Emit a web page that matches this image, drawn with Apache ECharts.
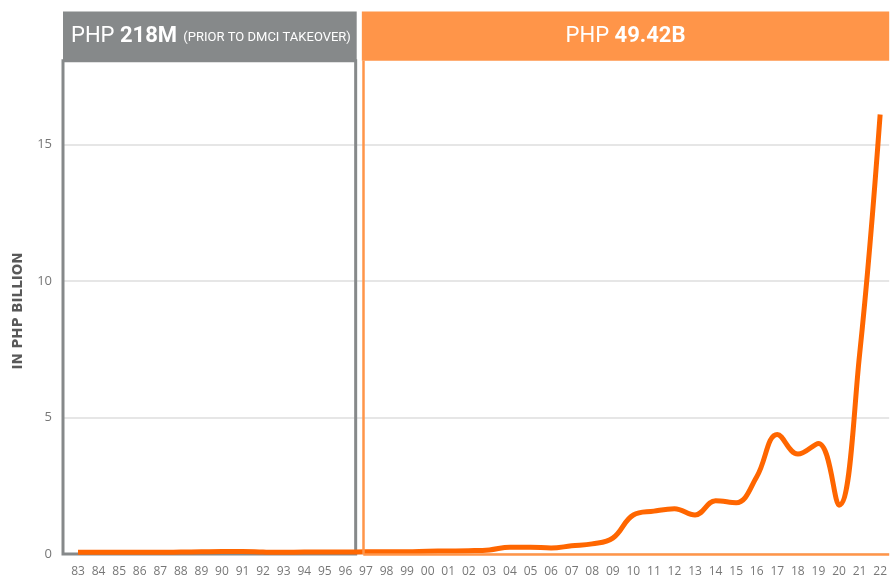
<!DOCTYPE html>
<html>
<head>
<meta charset="utf-8">
<script src="https://cdn.jsdelivr.net/npm/echarts@6/dist/echarts.min.js"></script>
<style>
  html, body { margin: 0; padding: 0; background: #fff; }
  #chart { width: 890px; height: 578px; }
</style>
</head>
<body>
<div id="chart"></div>
<script>
var years = [1983, 1984, 1985, 1986, 1987, 1988, 1989, 1990, 1991, 1992, 1993, 1994, 1995, 1996,
  1997, 1998, 1999, 2000, 2001, 2002, 2003, 2004, 2005, 2006, 2007, 2008, 2009, 2010,
  2011, 2012, 2013, 2014, 2015, 2016, 2017, 2018, 2019, 2020, 2021, 2022]
var yearLabels = ['83', '84', '85', '86', '87', '88', '89', '90', '91', '92', '93', '94', '95', '96',
  '97', '98', '99', '00', '01', '02', '03', '04', '05', '06', '07', '08', '09', '10',
  '11', '12', '13', '14', '15', '16', '17', '18', '19', '20', '21', '22']
// in PHP billion
var values = [0.06, 0.06, 0.06, 0.06, 0.06, 0.07, 0.08, 0.09, 0.09, 0.07, 0.06, 0.07, 0.07, 0.07,
  0.08, 0.08, 0.08, 0.1, 0.11, 0.12, 0.15, 0.25, 0.25, 0.22, 0.3, 0.37, 0.58, 1.43,
  1.57, 1.66, 1.43, 1.95, 1.88, 2.83, 4.38, 3.66, 4.05, 1.79, 7.3, 16.1]
var yTicks = [0, 5, 10, 15]

// era split (before / after DMCI takeover)
var preEra = { from: 1982.27, to: 1996.5, header: 'PHP ', amount: '218M', note: '(PRIOR TO DMCI TAKEOVER)' }
var postEra = { from: 1996.87, to: 2022.44, header: 'PHP ', amount: '49.42B' }
var boxTop = 18.07
var headerTop = 19.87

var GRAY = '#86898a'
var ORANGE = '#ff9549'
var LINE = '#ff6600'

var chart = echarts.init(document.getElementById('chart'))

var labelRich = {
  a: { fontFamily: 'Roboto', fontSize: 22, color: '#fff' },
  b: { fontFamily: 'Roboto', fontSize: 22, fontWeight: 'bold', color: '#fff' },
  c: { fontFamily: 'Roboto', fontSize: 13, color: '#fff', padding: [4, 0, 0, 3] }
}

chart.setOption({
  animation: false,
  grid: { left: 63, right: 0, top: 8, bottom: 24 },
  xAxis: {
    type: 'value',
    min: 1982.27,
    max: 2022.44,
    axisLine: { show: false },
    axisTick: { show: false },
    splitLine: { show: false },
    axisLabel: {
      customValues: years,
      margin: 12,
      fontFamily: 'Open Sans',
      fontSize: 12,
      color: '#777',
      formatter: function (v) {
        var i = years.indexOf(v)
        return i >= 0 ? yearLabels[i] : ''
      }
    }
  },
  yAxis: {
    type: 'value',
    min: 0,
    max: 20,
    interval: 5,
    axisLine: { show: false },
    axisTick: { show: false },
    axisLabel: {
      margin: 11,
      fontFamily: 'Open Sans',
      fontSize: 13,
      color: '#777',
      formatter: function (v) {
        return yTicks.indexOf(v) >= 0 ? String(v) : ''
      }
    },
    splitLine: {
      lineStyle: { color: ['#e6e6e6', '#e6e6e6', '#e6e6e6', '#e6e6e6', 'rgba(0,0,0,0)'], width: 2 }
    }
  },
  graphic: [{
    type: 'text',
    x: 18,
    y: 311,
    rotation: Math.PI / 2,
    style: {
      text: 'IN PHP BILLION',
      fontFamily: 'DejaVu Sans',
      fontSize: 13.5,
      fontWeight: 'bold',
      fill: '#595959',
      align: 'center',
      verticalAlign: 'middle'
    }
  }],
  series: [{
    type: 'line',
    data: years.map(function (y, i) { return [y, values[i]] }),
    smooth: 0.4,
    symbol: 'none',
    lineStyle: { color: LINE, width: 5 },
    // open-sided frame for the post-takeover era
    markLine: {
      silent: true,
      symbol: 'none',
      label: { show: false },
      lineStyle: { color: ORANGE, width: 2.5, type: 'solid' },
      data: [
        [{ coord: [postEra.from, 0] }, { coord: [postEra.from, boxTop] }],
        [{ coord: [postEra.from, 0] }, { coord: [postEra.to, 0] }]
      ]
    },
    markArea: {
      silent: true,
      data: [
        [
          { xAxis: preEra.from, yAxis: 0, itemStyle: { color: 'rgba(0,0,0,0)', borderColor: GRAY, borderWidth: 3 } },
          { xAxis: preEra.to, yAxis: boxTop }
        ],
        [
          {
            xAxis: preEra.from, yAxis: boxTop,
            itemStyle: { color: GRAY, borderWidth: 0 },
            label: {
              show: true,
              position: 'insideLeft',
              distance: 8,
              formatter: '{a|' + preEra.header + '}{b|' + preEra.amount + '} {c|' + preEra.note + '}',
              rich: labelRich
            }
          },
          { xAxis: preEra.to + 0.05, yAxis: headerTop }
        ],
        [
          {
            xAxis: postEra.from - 0.07, yAxis: boxTop,
            itemStyle: { color: ORANGE, borderWidth: 0 },
            label: {
              show: true,
              position: 'inside',
              formatter: '{a|' + postEra.header + '}{b|' + postEra.amount + '}',
              rich: labelRich
            }
          },
          { xAxis: postEra.to, yAxis: headerTop }
        ]
      ]
    }
  }]
})
</script>
</body>
</html>
